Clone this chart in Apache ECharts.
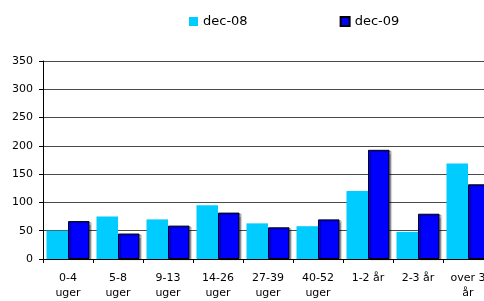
<!DOCTYPE html>
<html>
<head>
<meta charset="utf-8">
<script src="https://cdn.jsdelivr.net/npm/echarts@6/dist/echarts.min.js"></script>
<style>
  html, body { margin: 0; padding: 0; background: #fff; }
  #myChart { width: 484px; height: 301px; }
</style>
</head>
<body>
<div id="myChart"></div>
<script>
// kategorier og værdier
const categories = ['0-4\nuger', '5-8\nuger', '9-13\nuger', '14-26\nuger', '27-39\nuger', '40-52\nuger', '1-2 år', '2-3 år', 'over 3\når'];
const dec08 = [50, 75, 70, 95, 63, 58, 120, 48, 169];
const dec09 = [67, 45, 59, 82, 56, 70, 193, 80, 132];
const yTicks = [0, 50, 100, 150, 200, 250, 300, 350];

const font = 'DejaVu Sans, Verdana, sans-serif';

const option = {
  animation: false,
  textStyle: { fontFamily: font },
  legend: {
    left: 189,
    top: 15,
    padding: 0,
    itemWidth: 9,
    itemHeight: 9,
    itemGap: 92,
    icon: 'rect',
    itemStyle: { shadowBlur: 0, shadowOffsetX: 0, shadowOffsetY: 0, shadowColor: 'transparent' },
    textStyle: { fontSize: 13, color: '#000', fontFamily: font },
    data: ['dec-08', 'dec-09'],
  },
  grid: {
    left: 43,
    top: 61,
    width: 450,
    height: 198,
    containLabel: false,
    outerBoundsMode: 'none',
  },
  xAxis: {
    type: 'category',
    data: categories,
    axisLine: { show: true, lineStyle: { color: '#000', width: 1 } },
    axisTick: { show: true, length: 4, lineStyle: { color: '#000' } },
    axisLabel: {
      interval: 0,
      margin: 12,
      fontSize: 11,
      lineHeight: 15,
      color: '#000',
      fontFamily: font,
    },
  },
  yAxis: {
    type: 'value',
    min: yTicks[0],
    max: yTicks[yTicks.length - 1],
    interval: 50,
    axisLine: { show: true, lineStyle: { color: '#000', width: 1 } },
    axisTick: { show: true, length: 4, inside: false, lineStyle: { color: '#000' } },
    axisLabel: { fontSize: 11, color: '#000', margin: 10, fontFamily: font },
    splitLine: { lineStyle: { color: '#4a4a4a', width: 1 } },
  },
  series: [
    {
      name: 'dec-08',
      type: 'bar',
      data: dec08,
      barGap: '0%',
      barCategoryGap: '14%',
      itemStyle: { color: '#00CCFF', borderWidth: 0 },
    },
    {
      name: 'dec-09',
      type: 'bar',
      data: dec09,
      barGap: '0%',
      barCategoryGap: '14%',
      itemStyle: {
        color: '#0000FF',
        borderColor: '#000',
        borderWidth: 1,
        shadowColor: 'rgba(0,0,0,0.35)',
        shadowOffsetX: 2,
        shadowOffsetY: 1,
        shadowBlur: 1,
      },
    },
  ],
};

const myChart = echarts.init(document.getElementById('myChart'));
myChart.setOption(option);
</script>
</body>
</html>
